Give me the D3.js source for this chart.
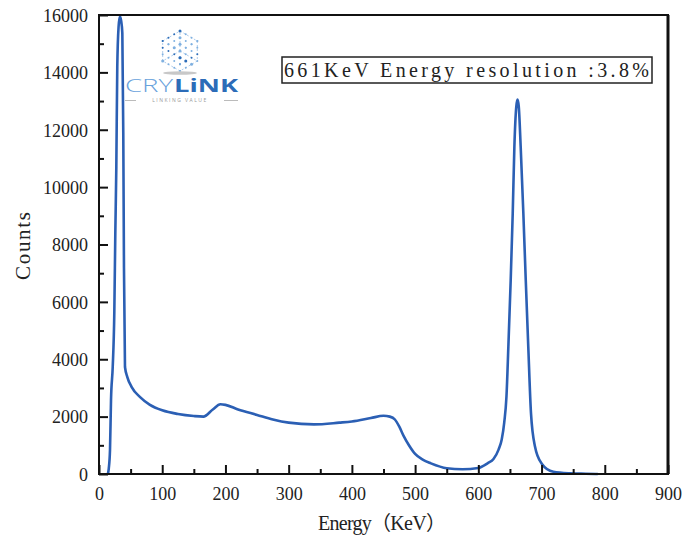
<!DOCTYPE html>
<html>
<head>
	<title> energy spectrum </title>
	<script src="https://d3js.org/d3.v7.min.js"></script>
	<style>
		body { margin: 0; background: white; }
		text { font-family: "Liberation Serif", "DejaVu Serif", serif; }
	</style>
</head>

<body>
	<div id="vis">
		<svg> </svg>
	</div>

	<script type="text/javascript">

		// values
		const energy = [14, 15.5, 17.4, 19, 21.7, 24.2, 25.8, 27.4, 28.9, 31, 33, 35, 36.9, 38.4, 39.5, 41.1, 44.8, 51.7, 65, 80,
			100, 125, 150, 165, 180, 192, 200, 220, 250, 275, 300, 340, 380, 400, 430, 450, 460, 468, 475, 482,
			490, 500, 512, 525, 550, 575, 600, 615, 624, 632, 637, 641, 644.5, 647.5, 651.2, 654.4, 657, 660, 662, 664, 667,
			671.2, 675, 679, 683.3, 689.7, 700, 718.6, 745, 770, 789];
		const counts = [0, 200, 840, 2580, 3730, 5610, 8400, 10700, 14190, 15600, 15950, 15800, 15370, 11900, 7200, 3730, 3380, 3030, 2680, 2420,
			2220, 2090, 2020, 2000, 2250, 2430, 2410, 2250, 2060, 1900, 1790, 1730, 1790, 1830, 1950, 2030, 2000, 1900, 1650, 1320,
			1010, 700, 500, 370, 200, 165, 210, 380, 520, 850, 1200, 1800, 2700, 4440, 6760, 9090, 11400, 12800, 13050, 12800, 11400,
			9090, 6760, 4440, 2115, 950, 370, 80, 25, 10, 0];

		const x_major = [0, 100, 200, 300, 400, 500, 600, 700, 800, 900];
		const x_minor = [50, 150, 250, 350, 450, 550, 650, 750, 850];
		const y_major = [0, 2000, 4000, 6000, 8000, 10000, 12000, 14000, 16000];
		const y_minor = [1000, 3000, 5000, 7000, 9000, 11000, 13000, 15000];

		const legend_text = "661KeV  Energy resolution :3.8%";
		const x_title = "Energy\uFF08KeV\uFF09";
		const y_title = "Counts";

		const w = 698;
		const h = 538;

		const left_border = 99;
		const right_border = 668;
		const top_border = 15;
		const bottom_border = 474;

		const svg = d3.select("svg").attr("width", w).attr("height", h);

		let x_scale = d3.scaleLinear().domain([0, 900]).range([left_border, right_border]);
		let y_scale = d3.scaleLinear().domain([0, 16000]).range([bottom_border, top_border]);

		const points = energy.map((e, i) => ({ e: e, c: counts[i] }));

		// logo, drawn first so the curve stays visible
		const logo = svg.append("g");
		const cx = 180, cy = 51, r = 20;
		const ax = [Math.cos(Math.PI / 6) * r / 3, Math.sin(Math.PI / 6) * r / 3];
		let dots = [];
		// three visible faces of an isometric cube, 3x3 grid each
		for (let i = 0; i <= 3; i++) {
			for (let j = 0; j <= 3; j++) {
				dots.push([cx - ax[0] * i + ax[0] * j, cy - r + ax[1] * i + ax[1] * j]);      // top face
				dots.push([cx - ax[0] * 3 + ax[0] * i, cy - r / 2 + r / 3 * j + ax[1] * i]); // left face
				dots.push([cx + ax[0] * i, cy + ax[1] * 3 - r / 2 + r / 3 * j - ax[1] * i]);  // right face
			}
		}
		const hex = d3.range(6).map(k => [cx + r * Math.cos(Math.PI / 3 * k - Math.PI / 2), cy + r * Math.sin(Math.PI / 3 * k - Math.PI / 2)]);
		logo.append("path").attr("d", "M" + hex.join("L") + "Z")
			.style("fill", "none").style("stroke", "#9cc0e6").style("stroke-width", 0.8).style("stroke-dasharray", "2,2");
		logo.append("path").attr("d", "M" + cx + "," + cy + "L" + hex[0] + "M" + cx + "," + cy + "L" + hex[2] + "M" + cx + "," + cy + "L" + hex[4])
			.style("fill", "none").style("stroke", "#9cc0e6").style("stroke-width", 0.8).style("stroke-dasharray", "2,2");
		logo.selectAll("circle").data(dots).join("circle")
			.attr("cx", d => d[0]).attr("cy", d => d[1]).attr("r", (d, i) => i % 5 == 0 ? 1.5 : 1)
			.style("fill", (d, i) => i % 4 == 0 ? "#2c6cb8" : "#7fb0e0");
		logo.append("ellipse").attr("cx", cx).attr("cy", 73).attr("rx", 17).attr("ry", 1.8).style("fill", "#c8c8c8");
		logo.append("text").attr("x", 125).attr("y", 92).attr("textLength", 48).attr("lengthAdjust", "spacingAndGlyphs")
			.style("font-family", "Open Sans, sans-serif").style("font-weight", 300).style("font-size", "18px")
			.style("fill", "#6aa2dc").text("CRY");
		logo.append("text").attr("x", 174).attr("y", 92).attr("textLength", 64).attr("lengthAdjust", "spacingAndGlyphs")
			.style("font-family", "Open Sans, sans-serif").style("font-weight", 700).style("font-size", "18px")
			.style("fill", "#2c6cb8").text("LiNK");
		logo.append("text").attr("x", 180).attr("y", 102).attr("text-anchor", "middle")
			.style("font-family", "Open Sans, sans-serif").style("font-size", "5px").style("letter-spacing", "1.5px")
			.style("fill", "#9a9a9a").text("LINKING VALUE");
		logo.append("path").attr("d", "M125,100.5H136M224,100.5H238").style("stroke", "#aaa").style("stroke-width", 0.8);

		// spectrum curve
		const line = d3.line().x(d => x_scale(d.e)).y(d => y_scale(d.c)).curve(d3.curveMonotoneX);
		svg.append("path").datum(points).attr("d", line)
			.style("fill", "none").style("stroke", "#2b5fb4").style("stroke-width", 2.6).style("stroke-linejoin", "round");

		// axes, ticks point inward
		const xaxis = d3.axisBottom(x_scale).tickValues(x_major).tickSize(-9).tickPadding(13).tickFormat(d3.format("d"));
		const gx = svg.append("g").attr("transform", "translate(0," + bottom_border + ")").call(xaxis);
		const xminor = d3.axisBottom(x_scale).tickValues(x_minor).tickSize(-5).tickFormat("");
		const gxm = svg.append("g").attr("transform", "translate(0," + bottom_border + ")").call(xminor);

		const yaxis = d3.axisLeft(y_scale).tickValues(y_major).tickSize(-9).tickPadding(11).tickFormat(d3.format("d"));
		const gy = svg.append("g").attr("transform", "translate(" + left_border + ",0)").call(yaxis);
		const yminor = d3.axisLeft(y_scale).tickValues(y_minor).tickSize(-5).tickFormat("");
		const gym = svg.append("g").attr("transform", "translate(" + left_border + ",0)").call(yminor);

		[gx, gxm, gy, gym].forEach(g => {
			g.select(".domain").remove();
			g.selectAll("line").style("stroke", "#111").style("stroke-width", 2);
			g.selectAll("text").style("font-family", "Liberation Serif, serif").style("font-size", "18px").style("fill", "#222");
		});
		gy.selectAll("text").attr("dy", "0.35em");

		// frame
		svg.append("rect").attr("x", left_border).attr("y", top_border)
			.attr("width", right_border - left_border).attr("height", bottom_border - top_border)
			.style("fill", "none").style("stroke", "#111").style("stroke-width", 2);
		svg.append("line").attr("x1", right_border).attr("x2", right_border).attr("y1", top_border).attr("y2", bottom_border)
			.style("stroke", "#111").style("stroke-width", 3);

		// legend box
		svg.append("rect").attr("x", 282).attr("y", 57).attr("width", 370).attr("height", 26)
			.style("fill", "white").style("stroke", "#222").style("stroke-width", 1.5);
		svg.append("text").attr("x", 284).attr("y", 77).attr("textLength", 365).attr("lengthAdjust", "spacing")
			.style("font-size", "20px").style("fill", "#222").text(legend_text);

		// axis titles
		svg.append("text").attr("x", 318).attr("y", 530).attr("textLength", 128).attr("lengthAdjust", "spacing")
			.style("font-size", "20px").style("fill", "#222")
			.style("font-family", "Liberation Serif, 'Noto Sans CJK SC', serif").text(x_title);
		svg.append("text").attr("transform", "translate(30,280) rotate(-90)").attr("textLength", 68).attr("lengthAdjust", "spacing")
			.style("font-size", "21px").style("fill", "#222").text(y_title);

	</script>
</body>
</html>
